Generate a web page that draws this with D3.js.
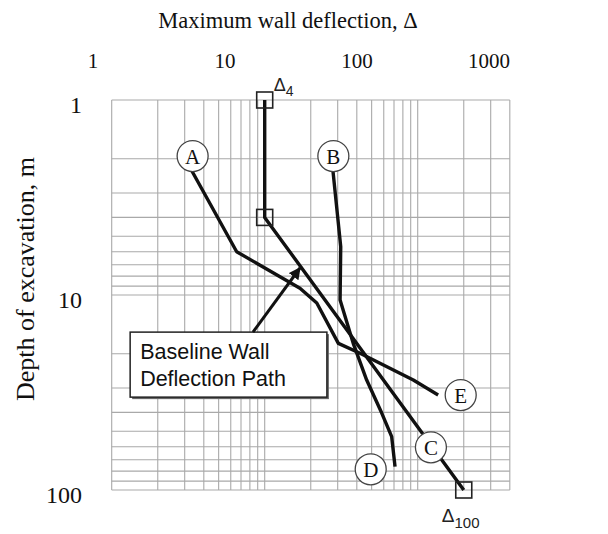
<!DOCTYPE html>
<html>
<head>
<meta charset="utf-8">
<script src="https://cdn.jsdelivr.net/npm/d3@7/dist/d3.min.js"></script>
<style>
  html, body { margin: 0; padding: 0; background: #fff; }
  svg { display: block; }
</style>
</head>
<body>
<svg id="chart" width="608" height="534"></svg>
<script>
// Deflection (x) vs depth of excavation (y), both on log scales
const xTicks = [1, 10, 100, 1000];
const yTicks = [1, 10, 100];

// Baseline wall deflection path, Δ4 → Δ100
const baselineDefl  = [10, 10, 200];
const baselineDepth = [1, 4, 100];

// Path running from A to E
const pathAEDefl  = [3.33, 6.56, 17.0, 21.9, 30.3, 42.0, 93.6, 136];
const pathAEDepth = [2.30, 6.0, 9.24, 11.0, 17.7, 19.9, 27.3, 32.6];

// Path running from B to D
const pathBDDefl  = [27.9, 31.4, 31.1, 37.9, 46.4, 58.2, 67.6, 71.1];
const pathBDDepth = [2.29, 5.65, 10.6, 17.7, 27.3, 40.3, 53.3, 75.9];

// Circled letter markers
const markerNames = ["A", "B", "C", "D", "E"];
const markerDefl  = [3.38, 28.1, 122, 49.3, 191];
const markerDepth = [1.94, 1.94, 60.4, 78.3, 32.6];

const svg = d3.select("#chart");
const serif = "'Liberation Serif', 'Times New Roman', serif";
const sans = "'Liberation Sans', Arial, sans-serif";

const x = d3.scaleLog().domain([1, 400]).range([111.7, 111.7 + 153 * Math.log10(400)]);
const y = d3.scaleLog().domain([1, 100]).range([100, 490]);
// Tick labels along the top are spaced on their own log scale
const xLab = d3.scaleLog().domain([1, 1000]).range([93, 489]);

// Grid
const xGrid = [];
for (let d = 1; d <= 100; d *= 10) for (let k = 1; k <= 9; k++) if (d * k <= 400) xGrid.push(d * k);
xGrid.push(200, 300, 400);
const xGridU = Array.from(new Set(xGrid));
const yGrid = [];
for (let d = 1; d <= 10; d *= 10) for (let k = 1; k <= 9; k++) yGrid.push(d * k);
yGrid.push(100);

const grid = svg.append("g").attr("stroke", "#a9a9a9").attr("stroke-width", 1.1);
grid.selectAll("line.v").data(xGridU).join("line")
  .attr("x1", d => x(d)).attr("x2", d => x(d))
  .attr("y1", y(1)).attr("y2", y(100));
grid.selectAll("line.h").data(yGrid).join("line")
  .attr("y1", d => y(d)).attr("y2", d => y(d))
  .attr("x1", x(1)).attr("x2", x(400));

// Axis titles and tick labels
svg.append("text").attr("x", 288).attr("y", 28).attr("text-anchor", "middle")
  .attr("font-family", serif).attr("font-size", 22.5).attr("fill", "#111")
  .text("Maximum wall deflection, Δ");
svg.selectAll("text.xt").data(xTicks).join("text")
  .attr("x", d => xLab(d)).attr("y", 68).attr("text-anchor", "middle")
  .attr("font-family", serif).attr("font-size", 21).attr("fill", "#111")
  .text(d => d);
svg.selectAll("text.yt").data(yTicks).join("text")
  .attr("x", 82).attr("y", d => y(d) + 13).attr("text-anchor", "end")
  .attr("font-family", serif).attr("font-size", 24).attr("fill", "#111")
  .text(d => d);
svg.append("text").attr("transform", "translate(34,279) rotate(-90)")
  .attr("text-anchor", "middle")
  .attr("font-family", serif).attr("font-size", 26).attr("fill", "#111")
  .text("Depth of excavation, m");

// Deflection paths
const line = d3.line().x(d => x(d[0])).y(d => y(d[1]));
const paths = [
  d3.zip(baselineDefl, baselineDepth),
  d3.zip(pathAEDefl, pathAEDepth),
  d3.zip(pathBDDefl, pathBDDepth)
];
svg.append("g").selectAll("path").data(paths).join("path")
  .attr("d", line).attr("fill", "none").attr("stroke", "#111")
  .attr("stroke-width", 3.4).attr("stroke-linejoin", "round");

// Square markers on the baseline path
svg.append("g").selectAll("rect").data(d3.zip(baselineDefl, baselineDepth)).join("rect")
  .attr("x", d => x(d[0]) - 8).attr("y", d => y(d[1]) - 8)
  .attr("width", 16).attr("height", 16)
  .attr("fill", "none").attr("stroke", "#222").attr("stroke-width", 1.6);

// Δ4 and Δ100 labels
const d4 = svg.append("text").attr("x", x(10) + 9).attr("y", y(1) - 9)
  .attr("font-family", sans).attr("font-size", 18).attr("fill", "#222");
d4.append("tspan").text("Δ");
d4.append("tspan").attr("font-size", 14).attr("dy", 5).text("4");
const d100 = svg.append("text").attr("x", x(200) - 22).attr("y", y(100) + 32)
  .attr("font-family", sans).attr("font-size", 19).attr("fill", "#222");
d100.append("tspan").text("Δ");
d100.append("tspan").attr("font-size", 15).attr("dy", 6).text("100");

// Circled letters
const mk = svg.append("g").selectAll("g").data(markerNames).join("g")
  .attr("transform", (d, i) => `translate(${x(markerDefl[i])},${y(markerDepth[i])})`);
mk.append("circle").attr("r", 15.5).attr("fill", "#fff")
  .attr("stroke", "#444").attr("stroke-width", 1.3);
mk.append("text").attr("text-anchor", "middle").attr("y", 7.5)
  .attr("font-family", serif).attr("font-size", 21).attr("fill", "#111")
  .text(d => d);

// Callout box with arrow
const boxX = [1.32, 25.5], boxY = [15.5, 33.4];
const bx = x(boxX[0]), by = y(boxY[0]), bw = x(boxX[1]) - bx, bh = y(boxY[1]) - by;
svg.append("rect").attr("x", bx + 2).attr("y", by + 2).attr("width", bw).attr("height", bh)
  .attr("fill", "#666");
svg.append("rect").attr("x", bx).attr("y", by).attr("width", bw).attr("height", bh)
  .attr("fill", "#fff").attr("stroke", "#222").attr("stroke-width", 1.5);
svg.append("text").attr("x", bx + 10).attr("y", by + 27)
  .attr("font-family", sans).attr("font-size", 21.5).attr("fill", "#111").text("Baseline Wall");
svg.append("text").attr("x", bx + 10).attr("y", by + 54)
  .attr("font-family", sans).attr("font-size", 21.5).attr("fill", "#111").text("Deflection Path");

svg.append("defs").append("marker").attr("id", "ah")
  .attr("viewBox", "0 0 10 10").attr("refX", 9).attr("refY", 5)
  .attr("markerWidth", 4).attr("markerHeight", 4).attr("orient", "auto")
  .append("path").attr("d", "M0,0 L10,5 L0,10 Z").attr("fill", "#111");
const arrowDefl = [8.38, 17.0], arrowDepth = [15.5, 7.27];
svg.append("line")
  .attr("x1", x(arrowDefl[0])).attr("y1", y(arrowDepth[0]))
  .attr("x2", x(arrowDefl[1])).attr("y2", y(arrowDepth[1]))
  .attr("stroke", "#111").attr("stroke-width", 3).attr("marker-end", "url(#ah)");
</script>
</body>
</html>
